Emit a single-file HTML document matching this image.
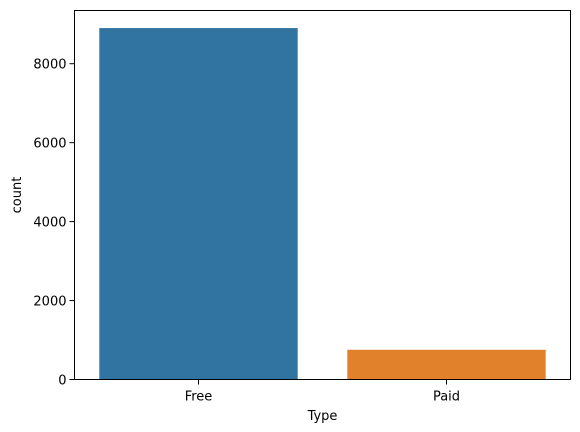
<!DOCTYPE html>
<html><head><meta charset="utf-8"><style>
body{margin:0;background:#fff}
svg{display:block;font-family:"DejaVu Sans","Liberation Sans",sans-serif}
</style></head><body>
<svg id="chart" width="580" height="432"></svg>
<script>
const categories = ["Free", "Paid"];
const counts = [8903, 753];
const yTicks = [0, 2000, 4000, 6000, 8000];
const colors = ["#3274a1", "#e1812c"];

const svg = document.getElementById('chart');
const NS = 'http://www.w3.org/2000/svg';
const L = 74.5, R = 570.5, T = 10.5, B = 379.5;
const yMax = 9348;
function y(v){ return B - v / yMax * (B - T); }
const band = (R - L) / categories.length;
function xc(i){ return L + band * (i + 0.5); }
function mk(tag, attrs, text){
  const e = document.createElementNS(NS, tag);
  for (const k in attrs) e.setAttribute(k, attrs[k]);
  if (text !== undefined) e.textContent = text;
  svg.appendChild(e);
  return e;
}
categories.forEach((c, i) => {
  const w = band * 0.8;
  const r = mk('rect', {x: xc(i) - w/2, y: y(counts[i]), width: w, height: B - y(counts[i]), fill: colors[i]});
  
  
  const t = mk('line', {x1: xc(i), x2: xc(i), y1: B, y2: B + 5, stroke: '#000', 'stroke-width': 1});
  
  
  const lb = mk('text', {x: xc(i), y: B + 21, 'text-anchor': 'middle', 'font-size': 13}, c);
  
  
});
yTicks.forEach(v => {
  const t = mk('line', {x1: L - 5, x2: L, y1: y(v), y2: y(v), stroke: '#000', 'stroke-width': 1});
  
  
  const lb = mk('text', {x: L - 8, y: y(v) + 5, 'text-anchor': 'end', 'font-size': 13}, String(v));
  
  
});
const f = mk('rect', {x: L, y: T, width: R - L, height: B - T, fill: 'none', stroke: '#000', 'stroke-width': 1});


const xt = mk('text', {x: (L + R) / 2, y: 420, 'text-anchor': 'middle', 'font-size': 13}, 'Type');


const yt = mk('text', {x: 0, y: 0, 'text-anchor': 'middle', 'font-size': 13, transform: 'translate(21,' + ((T + B) / 2) + ') rotate(-90)'}, 'count');


</script>
</body></html>
